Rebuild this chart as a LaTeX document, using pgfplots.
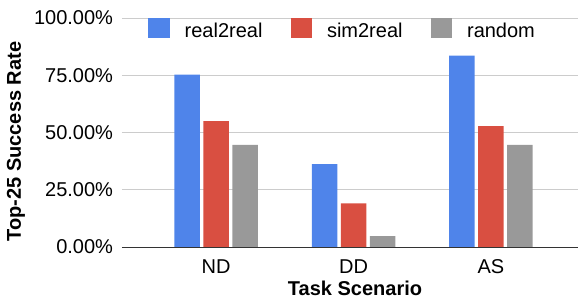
\documentclass[border=0pt]{standalone}
\usepackage{pgfplots}
\pgfplotsset{compat=1.18}
\usepackage{fontspec}
\setmainfont{Liberation Sans}
\definecolor{cblue}{HTML}{4F84EA}
\definecolor{cred}{HTML}{D94F41}
\definecolor{cgray}{HTML}{999999}
\begin{document}
\begin{tikzpicture}
\begin{axis}[
  scale only axis,
  width=456pt, height=229pt,
  xmin=-0.684, xmax=2.633,
  ymin=0, ymax=100,
  ybar, bar width=25.5pt,
  xtick={0,1,2}, xticklabels={ND,DD,AS},
  ytick={0,25,50,75,100},
  yticklabel={\pgfmathprintnumber[fixed,fixed zerofill,precision=2]{\tick}\%},
  /pgf/number format/assume math mode=true,
  ymajorgrids, grid style={black!20, line width=0.9pt},
  axis y line=left, y axis line style={draw=none},
  axis x line*=bottom, x axis line style={draw=black!80, line width=0.9pt, -},
  major tick length=0pt,
  tick label style={font=\fontsize{20}{22}\selectfont},
  xticklabel style={anchor=base, yshift=-27pt},
  yticklabel style={anchor=east, xshift=-5.5pt},
  xlabel={\textbf{Task Scenario}},
  ylabel={\textbf{Top-25 Success Rate}},
  label style={font=\fontsize{20}{22}\selectfont},
  xlabel style={at={(axis description cs:0.511,0)}, anchor=base, yshift=-48.5pt, inner sep=0pt},
  ylabel style={at={(axis description cs:-0.2325,0.46)}, anchor=center},
  legend columns=3,
  legend style={at={(0.057,1.0)}, anchor=north west, draw=none, fill=none,
    font=\fontsize{20}{22}\selectfont, inner sep=0pt,
    nodes={yshift=4pt},
    /tikz/every odd column/.append style={column sep=13pt},
    /tikz/every even column/.append style={column sep=26pt}},
  legend image code/.code={\fill[#1] (0pt,-3pt) rectangle (21.5pt,16.5pt);},
  clip=false,
]
\addplot[fill=cblue, draw=none, bar shift=-29pt] coordinates {(0,75.3) (1,36.2) (2,83.6)};
\addplot[fill=cred, draw=none, bar shift=0pt] coordinates {(0,55.0) (1,19.0) (2,52.8)};
\addplot[fill=cgray, draw=none, bar shift=29pt] coordinates {(0,44.6) (1,4.8) (2,44.6)};
\legend{real2real,sim2real,random}
\coordinate (O) at (rel axis cs:0,0);
\end{axis}
\pgfresetboundingbox
\path[use as bounding box] ([xshift=-122pt,yshift=-52pt]O) rectangle ([xshift=456pt,yshift=247pt]O);
\end{tikzpicture}
\end{document}
